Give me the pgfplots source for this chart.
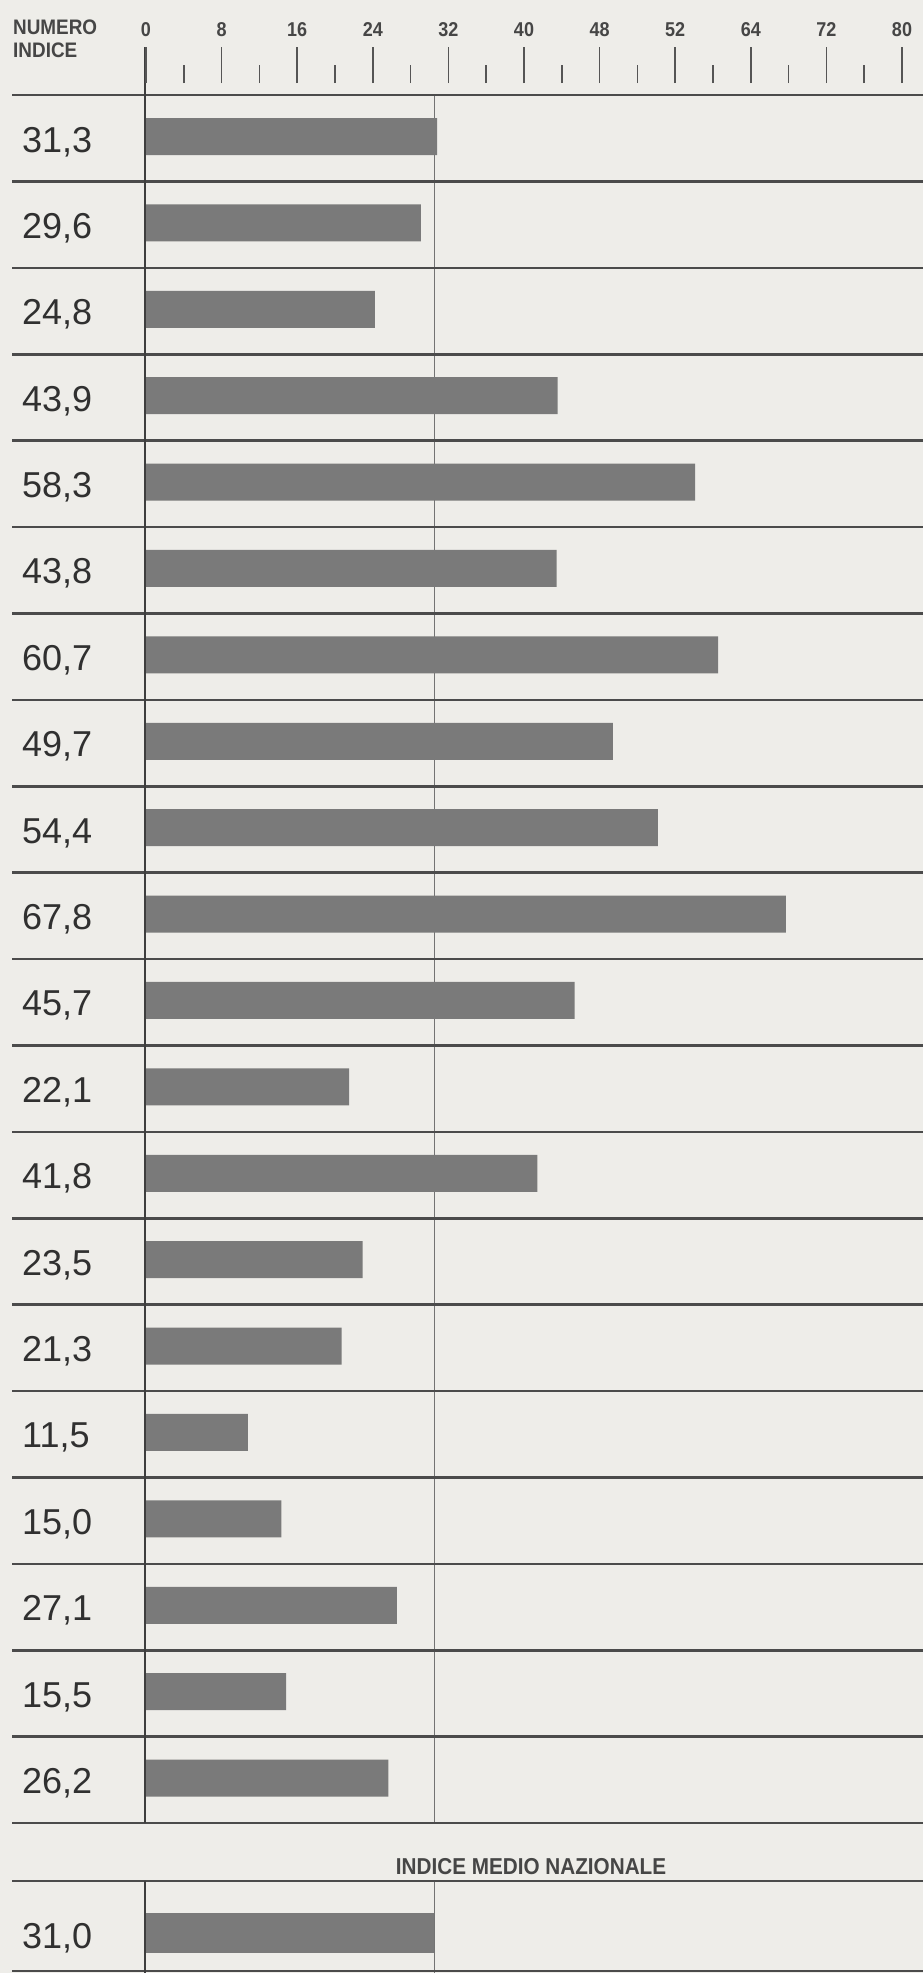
\documentclass[border=0pt]{standalone}
\usepackage{pgfplots}
\pgfplotsset{compat=1.18}
\usepackage{fontspec}
\setmainfont{Liberation Sans}
\newfontfamily\condbold[FakeStretch=0.9]{Liberation Sans Bold}
\definecolor{bg}{RGB}{238,237,233}
\definecolor{barc}{RGB}{122,122,122}
\definecolor{linec}{RGB}{75,75,75}
\definecolor{avgc}{RGB}{115,115,115}
\definecolor{axisc}{RGB}{62,62,62}
\definecolor{tickc}{RGB}{85,85,85}
\definecolor{txt}{RGB}{48,48,48}
\definecolor{txtl}{RGB}{70,70,70}
\begin{document}
\begin{tikzpicture}
\useasboundingbox (0,0) rectangle (923pt,-1973pt);
\fill[bg] (0,0) rectangle (923pt,-1973pt);
% main axis: rows
\begin{axis}[
  name=main, scale only axis, width=778pt, height=1879pt,
  at={(145pt,-94pt)}, anchor=north west,
  xmin=0.7325, xmax=82.147, ymin=-22.256, ymax=-0.5081,
  clip mode=individual,
  axis line style={draw=none},
  xtick=\empty,
  ytick={-1,-2,-3,-4,-5,-6,-7,-8,-9,-10,-11,-12,-13,-14,-15,-16,-17,-18,-19,-20,-21.793},
  yticklabels={{31,3},{29,6},{24,8},{43,9},{58,3},{43,8},{60,7},{49,7},{54,4},{67,8},{45,7},{22,1},{41,8},{23,5},{21,3},{11,5},{15,0},{27,1},{15,5},{26,2},{31,0}},
  ytick style={draw=none}, major tick length=0pt,
  yticklabel style={anchor=base west, xshift=-123pt, yshift=-15.5pt, inner sep=0pt,
    font=\fontsize{36}{40}\selectfont, text=txt},
]
\draw[avgc, line width=1.3pt] (axis cs:31,-0.52) -- (axis cs:31,-20.52);
\draw[avgc, line width=1.3pt] (axis cs:31,-21.191) -- (axis cs:31,-22.256);
\addplot[xbar, bar width=37pt, bar shift=0pt, fill=barc, draw=none] coordinates {
  (31.3,-1) (29.6,-2) (24.8,-3) (43.9,-4) (58.3,-5)
  (43.8,-6) (60.7,-7) (49.7,-8) (54.4,-9) (67.8,-10)
  (45.7,-11) (22.1,-12) (41.8,-13) (23.5,-14) (21.3,-15)
  (11.5,-16) (15.0,-17) (27.1,-18) (15.5,-19) (26.2,-20)
};
\addplot[xbar, bar width=40pt, bar shift=0pt, fill=barc, draw=none] coordinates {(31.0,-21.793)};
\pgfplotsinvokeforeach{0,...,20}{
  \draw[linec, line width=2.6pt] (axis cs:-13.185,{-#1-0.52}) -- (axis cs:82.147,{-#1-0.52});
}
\draw[linec, line width=2.6pt] (axis cs:-13.185,-21.191) -- (axis cs:82.147,-21.191);
\draw[linec, line width=2.2pt] (axis cs:-13.185,-22.236) -- (axis cs:82.147,-22.236);
\draw[axisc, line width=1.6pt] (axis cs:0.7325,0.0359) -- (axis cs:0.7325,-20.52);
\draw[axisc, line width=1.6pt] (axis cs:0.7325,-21.191) -- (axis cs:0.7325,-22.256);
\node[anchor=west, inner sep=0pt, text=txtl, font=\condbold\fontsize{21}{24}\selectfont] at (axis cs:-13.08,0.2616) {NUMERO};
\node[anchor=west, inner sep=0pt, text=txtl, font=\condbold\fontsize{21}{24}\selectfont] at (axis cs:-13.08,0.0012) {INDICE};
\node[inner sep=0pt, text=txtl, font=\condbold\fontsize{23}{26}\selectfont] at (axis cs:41.13,-21.02) {INDICE MEDIO NAZIONALE};
\end{axis}
% scale axis
\begin{axis}[
  scale only axis, width=756pt, height=36pt, at={(146pt,-83pt)}, anchor=south west,
  xmin=0, xmax=80, ymin=0, ymax=1,
  axis line style={draw=none}, ytick=\empty,
  xtick={0,8,16,24,32,40,48,56,64,72,80},
  xticklabels={0,8,16,24,32,40,48,52,64,72,80},
  minor x tick num=1,
  xtick pos=left, xticklabel pos=right, tick align=inside,
  major tick length=36pt, minor tick length=18pt,
  tick style={tickc, line width=1.5pt},
  xticklabel style={anchor=base, yshift=11pt, inner sep=0pt,
    font=\condbold\fontsize{20}{22}\selectfont, text=txtl},
]
\addplot[draw=none] coordinates {(0,0)};
\end{axis}
\end{tikzpicture}
\end{document}
